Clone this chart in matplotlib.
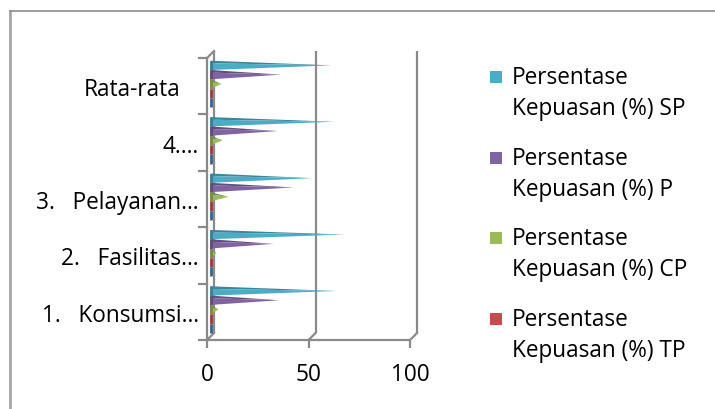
import matplotlib
matplotlib.use("Agg")
import matplotlib.pyplot as plt
from matplotlib.transforms import offset_copy, ScaledTranslation
from matplotlib.lines import Line2D
from matplotlib.patches import Rectangle
from matplotlib.colors import to_rgb
import numpy as np

plt.rcParams["font.family"] = ["Open Sans", "DejaVu Sans"]

# categories, bottom to top
categories = ["1.   Konsumsi…", "2.   Fasilitas…", "3.   Pelayanan…", "4.…", "Rata-rata"]

# series in drawing order, top of each group first
series_names = ["Persentase Kepuasan (%) SP", "Persentase Kepuasan (%) P",
                "Persentase Kepuasan (%) CP", "Persentase Kepuasan (%) TP",
                "Persentase Kepuasan (%) STP"]
sp_vals  = [62, 66, 50, 61, 59.75]
p_vals   = [34, 31, 41, 33, 34.75]
cp_vals  = [4, 3, 9, 6, 5.5]
tp_vals  = [0, 0, 0, 0, 0]
stp_vals = [0, 0, 0, 0, 0]
series_vals = [sp_vals, p_vals, cp_vals, tp_vals, stp_vals]
series_colors = ["#4BACC6", "#8064A2", "#9BBB59", "#C0504D", "#4F81BD"]
legend_count = 4   # legend box only fits the first four series

xticks = [0, 50, 100]
FS = 16.3

W, H = 715, 410
fig = plt.figure(figsize=(W / 100, H / 100), dpi=100)

def fx(px):
    return px / W

def fy(py):
    return 1 - py / H

# outer chart border (continues past right and bottom edges)
fig.add_artist(Line2D([fx(10), fx(10)], [fy(12), fy(H + 5)], color="#a6a6a6", lw=2.0))
fig.add_artist(Line2D([fx(10), fx(W + 5)], [fy(12), fy(12)], color="#8c8c8c", lw=1.2))

# front plane of the 3-D plot area
x0, x1, ytop, ybot = 207, 410, 59, 341
ax = fig.add_axes([fx(x0), fy(ybot), fx(x1 - x0), (ybot - ytop) / H])
ax.set_xlim(0, 100)
ax.set_ylim(0, len(categories))
for s in ax.spines.values():
    s.set_visible(False)

GRAY = "#8a8a8a"
DEPTH = 7  # pixels to the back wall
back = offset_copy(ax.transData, fig, x=DEPTH, y=DEPTH, units="dots")
mid = offset_copy(ax.transData, fig, x=DEPTH / 2, y=DEPTH / 2, units="dots")
n = len(categories)

# back wall: left edge and gridlines, joined to the front by short diagonals
for xv in xticks:
    ax.plot([xv, xv], [0, n], transform=back, color=GRAY, lw=1.6, clip_on=False,
            solid_capstyle="butt")
    p_front = ax.transData.transform((xv, 0))
    p_back = back.transform((xv, 0))
    ax.add_line(Line2D([p_front[0], p_back[0]], [p_front[1], p_back[1]],
                       transform=None, color=GRAY, lw=1.6, clip_on=False))

# front left axis and floor edge
ax.plot([0, 0], [0, n], color=GRAY, lw=1.6, clip_on=False, solid_capstyle="butt")
ax.plot([0, 100], [0, 0], color=GRAY, lw=1.6, clip_on=False, solid_capstyle="butt")
pf = ax.transData.transform((0, n))
pb = back.transform((0, n))
ax.add_line(Line2D([pf[0], pb[0]], [pf[1], pb[1]], transform=None, color=GRAY,
                   lw=1.6, clip_on=False))

# category boundary ticks on the left axis
for k in range(n + 1):
    a = ax.transData.transform((0, k))
    ax.add_line(Line2D([a[0] - 8, a[0]], [a[1], a[1]], transform=None,
                       color=GRAY, lw=1.6, clip_on=False))

ax.set_xticks(xticks)
ax.set_xticklabels([str(t) for t in xticks], fontsize=FS)
ax.tick_params(axis="x", length=6, width=1.6, color=GRAY, pad=10)
ax.set_yticks(np.arange(n) + 0.5)
ax.set_yticklabels(categories, fontsize=FS)
ax.tick_params(axis="y", length=0, pad=6)
lbl = ax.get_yticklabels()[-1]
lbl.set_transform(lbl.get_transform() + ScaledTranslation(-18 / 100, 0, fig.dpi_scale_trans))


def shade(c, f):
    r, g, b = to_rgb(c)
    return (r * f, g * f, b * f)


# pyramid bars: a narrow upper face and a wide front face meeting at the tip,
# plus the base edge seen side-on
bar_h = 0.165
top_gap = 0.11
for i in range(n):
    for j, (vals, col) in enumerate(zip(series_vals, series_colors)):
        yt = i + 1 - top_gap - j * bar_h
        yb = yt - bar_h
        yedge = yt - 0.28 * bar_h
        ytip = yt - 0.5 * bar_h
        v = vals[i]
        if v > 0:
            ax.fill([0, 0, v], [yt, yedge, ytip], color=shade(col, 0.78),
                    transform=mid, lw=0, clip_on=False, zorder=3 + j * 0.01)
            ax.fill([0, 0, v], [yedge, yb, ytip], color=col,
                    transform=mid, lw=0, clip_on=False, zorder=3 + j * 0.01)
        ax.plot([0, 0], [yb, yt], transform=mid, color=shade(col, 0.75), lw=2.0,
                solid_capstyle="butt", clip_on=False, zorder=3.1)

# legend
for k in range(legend_count):
    yc = 78 + 80.7 * k
    fig.add_artist(Rectangle((fx(490), fy(yc + 6)), fx(12), 12 / H,
                             color=series_colors[k], lw=0))
    words = series_names[k].split(" ", 1)
    fig.text(fx(512), fy(yc), words[0], fontsize=FS, va="center", ha="left")
    fig.text(fx(512), fy(yc + 31), words[1], fontsize=FS, va="center", ha="left")

fig.savefig("out.png", dpi=100)
